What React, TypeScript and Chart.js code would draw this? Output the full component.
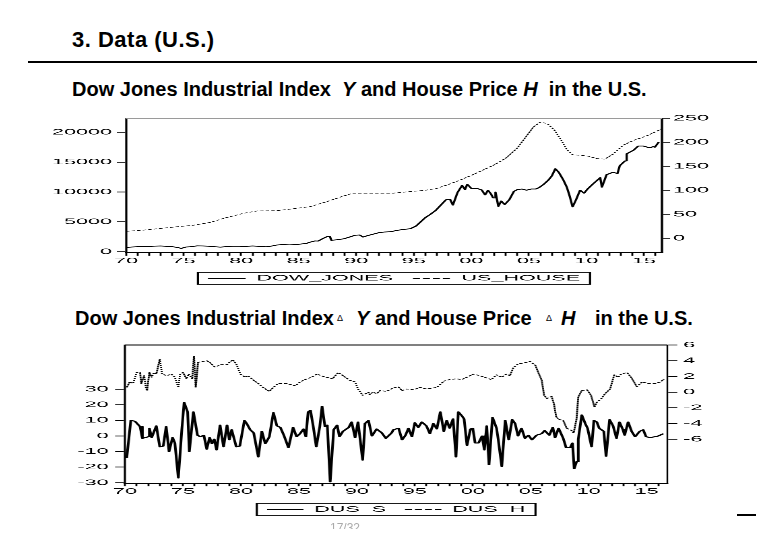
import React, { useEffect, useRef } from 'react';
import { Chart, registerables } from 'chart.js';

Chart.register(...registerables);

const FONT = "'Liberation Sans', Arial, Helvetica, sans-serif";
const NATIVE_W = 256;
const SX = 690 / NATIVE_W;

// ---------- Chart 1 : levels ----------
const DJ_YEARS = [1970.0, 1970.5, 1971.0, 1971.5, 1972.0, 1972.5, 1973.0, 1973.5, 1974.0, 1974.5, 1974.8, 1975.2, 1975.6, 1976.2, 1976.7, 1977.3, 1977.8, 1978.2, 1978.7, 1979.3, 1979.9, 1980.5, 1981.0, 1981.5, 1982.2, 1982.7, 1983.1, 1983.6, 1984.2, 1984.8, 1985.2, 1985.7, 1986.0, 1986.4, 1986.7, 1987.1, 1987.5, 1987.7, 1987.85, 1988.3, 1988.9, 1989.5, 1989.9, 1990.3, 1990.6, 1991.0, 1991.5, 1992.0, 1992.5, 1993.0, 1993.5, 1994.0, 1994.7, 1995.2, 1995.6, 1996.0, 1996.4, 1996.9, 1997.3, 1997.8, 1998.15, 1998.4, 1998.8, 1999.2, 1999.45, 1999.65, 2000.0, 2000.5, 2000.9, 2001.2, 2001.45, 2001.7, 2001.9, 2002.1, 2002.35, 2002.6, 2002.9, 2003.3, 2003.7, 2004.0, 2004.4, 2004.8, 2005.2, 2005.6, 2005.9, 2006.3, 2006.7, 2007.0, 2007.3, 2007.6, 2008.0, 2008.3, 2008.55, 2008.8, 2009.1, 2009.45, 2009.8, 2010.1, 2010.6, 2011.2, 2011.35, 2011.75, 2012.3, 2012.7, 2012.9, 2013.35, 2013.5, 2014.1, 2014.5, 2014.95, 2015.5, 2015.8, 2015.95, 2016.3];
const DJ_VALUES = [700, 780, 840, 880, 880, 930, 960, 900, 850, 700, 550, 780, 830, 980, 960, 900, 820, 760, 850, 830, 830, 900, 960, 900, 820, 960, 1120, 1200, 1150, 1200, 1280, 1400, 1600, 1800, 1780, 2200, 2550, 2600, 1900, 2000, 2150, 2500, 2750, 2800, 2450, 2700, 2950, 3200, 3300, 3350, 3550, 3700, 3850, 4300, 5000, 5700, 6200, 6900, 7700, 8700, 8800, 7800, 9900, 11100, 10400, 11300, 10600, 10600, 10350, 9500, 10300, 9700, 9000, 10000, 7600, 8500, 7900, 8700, 10100, 10400, 10500, 10300, 10500, 10500, 10750, 11300, 12000, 12700, 13900, 13300, 12000, 10800, 9300, 7500, 8700, 10300, 9800, 10500, 11400, 12400, 10800, 12900, 13300, 13100, 14400, 15200, 16400, 17000, 17700, 17700, 17400, 17600, 17500, 18400];

const HOUSE_YEARS = [1970.0, 1971.5, 1973.0, 1974.4, 1975.8, 1977.3, 1978.7, 1980.2, 1981.4, 1983.1, 1984.5, 1986.0, 1987.4, 1988.9, 1989.7, 1991.2, 1993.2, 1994.5, 1996.0, 1997.0, 1998.0, 1999.0, 2000.0, 2001.0, 2002.0, 2003.0, 2004.0, 2004.8, 2005.4, 2006.0, 2006.6, 2007.2, 2007.8, 2008.3, 2008.8, 2009.5, 2010.2, 2010.9, 2011.6, 2012.3, 2013.2, 2014.1, 2015.2, 2016.2, 2016.5];
const HOUSE_VALUES = [14.5, 17, 20.5, 24, 27, 33, 43, 52, 57, 57.5, 61.5, 66, 76, 88, 94, 94, 94, 97, 100, 104, 112, 121, 131, 142, 153, 167, 188, 213, 232, 242, 239, 226, 205, 185, 174, 173, 171, 166, 165, 175, 194, 204, 213, 224, 228];

const DJ_TICKS = [0, 5000, 10000, 15000, 20000];
const HOUSE_TICKS = [0, 50, 100, 150, 200, 250];

// ---------- Chart 2 : changes ----------
const DUS_S_YEARS = [1970.15, 1970.5, 1970.85, 1971.3, 1971.5, 1972.0, 1972.1, 1972.3, 1972.7, 1973.0, 1973.3, 1973.55, 1973.8, 1974.1, 1974.3, 1974.6, 1974.9, 1975.1, 1975.4, 1975.55, 1975.9, 1976.25, 1976.5, 1976.8, 1977.05, 1977.3, 1977.5, 1977.7, 1977.9, 1978.2, 1978.5, 1978.8, 1979.0, 1979.2, 1979.6, 1979.9, 1980.3, 1980.5, 1980.8, 1981.1, 1981.5, 1981.8, 1982.1, 1982.45, 1982.8, 1983.1, 1983.4, 1983.7, 1984.1, 1984.5, 1984.8, 1985.1, 1985.4, 1985.6, 1985.8, 1986.0, 1986.25, 1986.5, 1986.8, 1987.0, 1987.25, 1987.45, 1987.7, 1988.0, 1988.3, 1988.5, 1988.8, 1989.3, 1989.55, 1989.85, 1990.1, 1990.5, 1990.7, 1991.0, 1991.3, 1991.7, 1992.15, 1992.5, 1993.0, 1993.15, 1993.6, 1993.9, 1994.2, 1994.45, 1994.75, 1995.0, 1995.3, 1995.6, 1996.0, 1996.3, 1996.6, 1996.9, 1997.2, 1997.5, 1997.75, 1998.0, 1998.3, 1998.55, 1998.75, 1999.05, 1999.25, 1999.5, 1999.8, 2000.0, 2000.2, 2000.5, 2000.8, 2001.0, 2001.2, 2001.4, 2001.7, 2002.05, 2002.2, 2002.5, 2002.8, 2003.1, 2003.4, 2003.65, 2003.9, 2004.2, 2004.5, 2004.8, 2005.1, 2005.5, 2005.95, 2006.2, 2006.6, 2006.9, 2007.1, 2007.4, 2007.8, 2008.05, 2008.4, 2008.6, 2008.75, 2008.95, 2009.1, 2009.4, 2009.7, 2009.9, 2010.25, 2010.45, 2010.7, 2010.9, 2011.3, 2011.5, 2011.8, 2012.1, 2012.4, 2012.65, 2012.95, 2013.1, 2013.4, 2013.7, 2014.0, 2014.4, 2014.7, 2014.95, 2015.3, 2015.7, 2016.0, 2016.45];
const DUS_S_VALUES = [-14, 10, 9.5, 6, -1.5, -0.5, 5, -1, 6.5, -7, -6.5, 6, -10, -1, -4.5, -27, 4, 21.5, 15.5, -10, 15.5, 0.5, -0.5, 0.5, -8.5, -1, -5, -2, -9, 7, -7, 7, -2.5, 4, -7, -6.5, 10, 8, 4, 2, -13.5, 3, -5, -0.5, 15, 6.5, 5.5, 0.5, -7.5, 5.5, -0.5, 1.5, 4.5, -0.5, 15.5, 16.5, 5.5, -7, 6, 19, 6, 7, -29.5, 4, 7, -0.5, 3, 5.5, 9, -1, 9, -15.5, 8, 10, 0, 4.5, 2, -1.5, 2, 4, 5, -2.5, 0.5, 5, -0.5, 8.5, 5.5, 9, 6.5, 1.5, 8, 4.5, 15.5, 3, 10, 5, 11, -13.5, 15.5, 13, 11, -6, 4.5, 5, -4.5, -4.5, 0, -9, 6.5, -18.5, 12, 5, -2.5, -19.5, 10, -2.5, 10.5, 8, 0, 5, -1.5, 0.5, -2.5, 0.5, 1.5, 3.5, 0.5, 5.5, -1, 5, -1.5, -7.5, -7.5, -4.5, -21, -16.5, -2, 13.5, 8, 5, -7, 10, 9, 5, 3, -13, 10.5, 6.5, -1.5, 9, 4, 0.5, 9, 3, -0.5, 3, 4, -0.5, -1, -0.5, 0, 1.5];

const DUS_H_YEARS = [1970.15, 1970.4, 1970.7, 1971.0, 1971.3, 1971.4, 1971.65, 1971.8, 1971.9, 1972.1, 1972.3, 1972.5, 1972.7, 1973.0, 1973.2, 1973.6, 1974.0, 1974.3, 1974.6, 1974.75, 1975.0, 1975.3, 1975.5, 1975.8, 1975.95, 1976.1, 1976.3, 1977.05, 1977.3, 1977.75, 1978.3, 1978.8, 1979.0, 1979.3, 1979.6, 1979.95, 1980.35, 1980.6, 1981.1, 1981.5, 1981.9, 1982.45, 1982.8, 1983.2, 1983.95, 1984.7, 1985.1, 1985.7, 1986.1, 1986.55, 1987.1, 1987.9, 1988.4, 1988.8, 1989.4, 1989.85, 1990.1, 1990.5, 1991.0, 1991.1, 1991.4, 1991.7, 1992.0, 1992.55, 1993.1, 1993.55, 1993.9, 1994.3, 1994.9, 1995.45, 1996.0, 1996.9, 1997.5, 1998.0, 1998.6, 1999.05, 1999.5, 2000.05, 2000.6, 2001.2, 2001.6, 2002.05, 2002.5, 2002.9, 2003.2, 2003.5, 2003.9, 2004.35, 2004.95, 2005.4, 2005.65, 2005.95, 2006.15, 2006.4, 2006.8, 2007.0, 2007.2, 2007.5, 2007.8, 2008.1, 2008.5, 2008.7, 2008.95, 2009.1, 2009.4, 2009.85, 2010.2, 2010.5, 2010.7, 2011.1, 2011.4, 2011.85, 2012.2, 2012.55, 2012.8, 2013.3, 2013.7, 2014.15, 2014.6, 2015.15, 2015.7, 2016.2, 2016.5];
const DUS_H_VALUES = [0.6, 1.3, 1.1, 2.5, 2.5, 1.1, 2.1, 0.6, 0.2, 2.5, 1.9, 2.5, 2.3, 4.2, 2.3, 2.1, 2.3, 1.9, 0.6, 2.3, 2.5, 1.7, 2.3, 1.7, 4.6, 0.6, 3.8, 4.0, 3.8, 3.2, 3.5, 3.5, 3.8, 4.1, 3.6, 2.3, 1.9, 2.1, 1.5, 1.1, 0.6, 0.1, 0.6, 1.1, 1.1, 0.8, 1.3, 1.7, 1.9, 2.3, 2.0, 1.7, 2.5, 2.1, 1.5, 1.3, 0.4, -0.4, 0.0, -0.3, 0.0, -0.2, 0.2, 0.1, 0.5, 0.7, 0.2, 0.4, 0.3, 0.6, 0.4, 0.6, 1.4, 1.6, 1.7, 1.6, 1.9, 2.3, 2.1, 1.8, 1.6, 2.2, 1.9, 2.3, 2.1, 3.1, 3.6, 3.7, 3.9, 3.4, 2.5, 1.5, -0.4, -0.8, -0.55, -1.5, -3.2, -3.5, -3.6, -4.6, -4.85, -5.2, -3.4, -0.6, 0.2, 0.3, -0.4, -1.9, -1.3, -0.8, -0.2, 0.4, 2.2, 1.9, 2.3, 2.5, 1.8, 0.7, 1.3, 1.1, 1.1, 1.3, 1.7];

const DUS_S_TICKS = [-30, -20, -10, 0, 10, 20, 30];
const DUS_H_TICKS = [-6, -4, -2, 0, 2, 4, 6];

// ---------- shared x axis ----------
const YEAR_TICKS: number[] = [];
for (let y = 1970; y <= 2016; y++) YEAR_TICKS.push(y);
const LABEL_YEARS = [1970, 1975, 1980, 1985, 1990, 1995, 2000, 2005, 2010, 2015];
const YEAR_LABELS = ['70', '75', '80', '85', '90', '95', '00', '05', '10', '15'];

function pts(xs: number[], ys: number[]) {
  return xs.map((x, i) => ({ x, y: ys[i] }));
}

const framePlugin = {
  id: 'frame',
  afterDatasetsDraw(chart: any, _a: any, opts: any) {
    const { ctx, chartArea } = chart;
    ctx.save();
    ctx.strokeStyle = opts.topColor;
    ctx.lineWidth = opts.topWidth;
    ctx.beginPath();
    ctx.moveTo(chartArea.left, chartArea.top);
    ctx.lineTo(chartArea.right, chartArea.top);
    ctx.stroke();
    ctx.restore();
  },
  afterDraw(chart: any, _a: any, opts: any) {
    const lg = chart.legend;
    const hb = lg && lg.legendHitBoxes;
    if (!hb || !hb.length) return;
    const ctx = chart.ctx;
    let minX = Infinity;
    let maxX = -Infinity;
    hb.forEach((h: any) => {
      minX = Math.min(minX, h.left);
      maxX = Math.max(maxX, h.left + h.width);
    });
    const cy = hb[0].top + hb[0].height / 2;
    ctx.save();
    ctx.strokeStyle = '#000';
    ctx.lineWidth = opts.boxLine;
    ctx.strokeRect(minX - opts.boxPad, cy - opts.boxHalfH, maxX - minX + 2 * opts.boxPad, 2 * opts.boxHalfH);
    ctx.restore();
  },
};

interface AxisSpec {
  min: number;
  max: number;
  ticks: number[];
  tickLength: number;
  padding: number;
  border: number;
}

interface Spec {
  top: number;
  height: number;
  padTop: number;
  padBottom: number;
  leftW: number;
  rightW: number;
  xH: number;
  xMax: number;
  yL: AxisSpec;
  yR: AxisSpec;
  topColor: string;
  legendPad: number;
  legendLine: number;
  legendDashes: number[][];
  boxPad: number;
  boxHalfH: number;
  datasets: any[];
}

function yAxis(a: AxisSpec, position: 'left' | 'right', width: number) {
  return {
    type: 'linear',
    position,
    min: a.min,
    max: a.max,
    afterBuildTicks: (s: any) => {
      s.ticks = a.ticks.map((v) => ({ value: v }));
    },
    afterFit: (s: any) => {
      s.width = width;
    },
    ticks: {
      autoSkip: false,
      padding: a.padding,
      color: '#000',
      font: { family: FONT, size: 8 },
      callback: (v: any) => String(v),
    },
    grid: {
      drawOnChartArea: false,
      drawTicks: true,
      tickLength: a.tickLength,
      color: '#000',
      lineWidth: 0.8,
    },
    border: { display: true, color: '#000', width: a.border },
  };
}

function buildConfig(spec: Spec): any {
  return {
    type: 'line',
    data: { datasets: spec.datasets },
    plugins: [framePlugin],
    options: {
      responsive: false,
      maintainAspectRatio: false,
      devicePixelRatio: 4,
      animation: false,
      events: [],
      layout: { padding: { top: spec.padTop, bottom: spec.padBottom, left: 0, right: 0 } },
      elements: { point: { radius: 0 }, line: { tension: 0, borderJoinStyle: 'round' } },
      scales: {
        x: {
          type: 'linear',
          min: 1970,
          max: spec.xMax,
          afterBuildTicks: (s: any) => {
            s.ticks = YEAR_TICKS.map((v) => ({ value: v }));
          },
          afterFit: (s: any) => {
            s.height = spec.xH;
          },
          ticks: {
            autoSkip: false,
            maxRotation: 0,
            minRotation: 0,
            padding: 0.5,
            color: '#000',
            font: { family: FONT, size: 8 },
            callback: (v: any) => {
              const i = LABEL_YEARS.indexOf(v);
              return i >= 0 ? YEAR_LABELS[i] : '';
            },
          },
          grid: { drawOnChartArea: false, drawTicks: true, tickLength: 3, color: '#000', lineWidth: 0.7 },
          border: { display: true, color: '#000', width: 1 },
        },
        yL: yAxis(spec.yL, 'left', spec.leftW),
        yR: yAxis(spec.yR, 'right', spec.rightW),
      },
      plugins: {
        tooltip: { enabled: false },
        title: { display: false },
        frame: { topColor: spec.topColor, topWidth: 1, boxLine: 0.8, boxPad: spec.boxPad, boxHalfH: spec.boxHalfH },
        legend: {
          display: true,
          position: 'bottom',
          fullSize: false,
          labels: {
            color: '#000',
            font: { family: FONT, size: 8 },
            usePointStyle: true,
            pointStyle: 'line',
            pointStyleWidth: spec.legendLine,
            padding: spec.legendPad,
            generateLabels: (chart: any) => {
              const items = (Chart as any).defaults.plugins.legend.labels.generateLabels(chart);
              return items.map((it: any, i: number) => ({ ...it, lineDash: spec.legendDashes[i], lineWidth: 0.9 }));
            },
          },
        },
      },
    },
  };
}

const SPEC1: Spec = {
  top: 108,
  height: 190,
  padTop: 10.3,
  padBottom: 5.7,
  leftW: (126 - 40) / SX,
  rightW: NATIVE_W - (662 - 40) / SX,
  xH: 14.2,
  xMax: 2016.57,
  yL: { min: -168, max: 22345, ticks: DJ_TICKS, tickLength: 3.4, padding: 1.8, border: 0.8 },
  yR: { min: -30, max: 250, ticks: HOUSE_TICKS, tickLength: 3, padding: 1.1, border: 0.9 },
  topColor: '#9a9a9a',
  legendPad: 7.4,
  legendLine: 14,
  legendDashes: [[], [2.6, 1.1]],
  boxPad: 3.7,
  boxHalfH: 6,
  datasets: [
    { label: 'DOW_JONES', data: pts(DJ_YEARS, DJ_VALUES), yAxisID: 'yL', borderColor: '#000', backgroundColor: '#000', borderWidth: 0.85, pointRadius: 0, fill: false },
    { label: 'US_HOUSE', data: pts(HOUSE_YEARS, HOUSE_VALUES), yAxisID: 'yR', borderColor: '#000', backgroundColor: '#000', borderWidth: 0.6, borderDash: [1.3, 0.8], pointRadius: 0, fill: false },
  ],
};

const SPEC2: Spec = {
  top: 335,
  height: 195,
  padTop: 10,
  padBottom: 6.5,
  leftW: (125 - 40) / SX,
  rightW: NATIVE_W - (667.3 - 40) / SX,
  xH: 15.2,
  xMax: 2016.78,
  yL: { min: -30.4, max: 58.45, ticks: DUS_S_TICKS, tickLength: 3.7, padding: 2.4, border: 0.8 },
  yR: { min: -11.6, max: 6, ticks: DUS_H_TICKS, tickLength: 3.7, padding: 2.2, border: 0.6 },
  topColor: '#000',
  legendPad: 7,
  legendLine: 13.5,
  legendDashes: [[], [2.6, 1.1]],
  boxPad: 3.8,
  boxHalfH: 6.2,
  datasets: [
    { label: 'DUS_S', data: pts(DUS_S_YEARS, DUS_S_VALUES), yAxisID: 'yL', borderColor: '#000', backgroundColor: '#000', borderWidth: 1.0, pointRadius: 0, fill: false },
    { label: 'DUS_H', data: pts(DUS_H_YEARS, DUS_H_VALUES), yAxisID: 'yR', borderColor: '#000', backgroundColor: '#000', borderWidth: 0.7, borderDash: [1.3, 0.7], pointRadius: 0, fill: false },
  ],
};

function StretchedChart({ spec }: { spec: Spec }) {
  const ref = useRef<HTMLCanvasElement>(null);
  useEffect(() => {
    if (!ref.current) return;
    const chart = new Chart(ref.current, buildConfig(spec));
    return () => chart.destroy();
  }, [spec]);
  return (
    <div
      style={{
        position: 'absolute',
        left: 40,
        top: spec.top,
        width: NATIVE_W,
        height: spec.height,
        transform: `scaleX(${SX})`,
        transformOrigin: '0 0',
      }}
    >
      <canvas ref={ref} width={NATIVE_W} height={spec.height} style={{ display: 'block' }} />
    </div>
  );
}

const txt = (left: number, top: number, size: number, extra: React.CSSProperties = {}): React.CSSProperties => ({
  position: 'absolute',
  left,
  top,
  fontSize: size,
  lineHeight: `${size}px`,
  fontFamily: FONT,
  fontWeight: 'bold',
  color: '#000',
  whiteSpace: 'pre',
  ...extra,
});

export default function App() {
  return (
    <div
      style={{
        position: 'absolute',
        left: 0,
        top: 0,
        width: 780,
        height: 540,
        overflow: 'hidden',
        background: '#fff',
        fontFamily: FONT,
      }}
    >
      <div style={txt(72, 29, 22, { letterSpacing: 0.5 })}>3. Data (U.S.)</div>
      <div style={{ position: 'absolute', left: 28, top: 61, width: 729, height: 2, background: '#000' }} />

      <div style={txt(72, 79, 20)}>
        {'Dow Jones Industrial Index  '}
        <i>Y</i>
        {' and House Price '}
        <i>H</i>
        {'  in the U.S.'}
      </div>

      <StretchedChart spec={SPEC1} />

      <div style={txt(75, 308, 20)}>Dow Jones Industrial Index</div>
      <div style={txt(337, 314, 9, { fontWeight: 'normal' })}>Δ</div>
      <div style={txt(356, 308, 20, { fontStyle: 'italic' })}>Y</div>
      <div style={txt(375, 308, 20)}>and House Price</div>
      <div style={txt(546, 314, 9, { fontWeight: 'normal' })}>Δ</div>
      <div style={txt(561, 308, 20, { fontStyle: 'italic' })}>H</div>
      <div style={txt(595, 308, 20)}>in the U.S.</div>

      <StretchedChart spec={SPEC2} />

      <div style={{ position: 'absolute', left: 330, top: 522, height: 7, overflow: 'hidden' }}>
        <div style={txt(0, 0, 12, { position: 'relative', fontWeight: 'normal', color: '#aaa' })}>17/32</div>
      </div>
      <div style={{ position: 'absolute', left: 737, top: 514, width: 19, height: 2, background: '#000' }} />
    </div>
  );
}
